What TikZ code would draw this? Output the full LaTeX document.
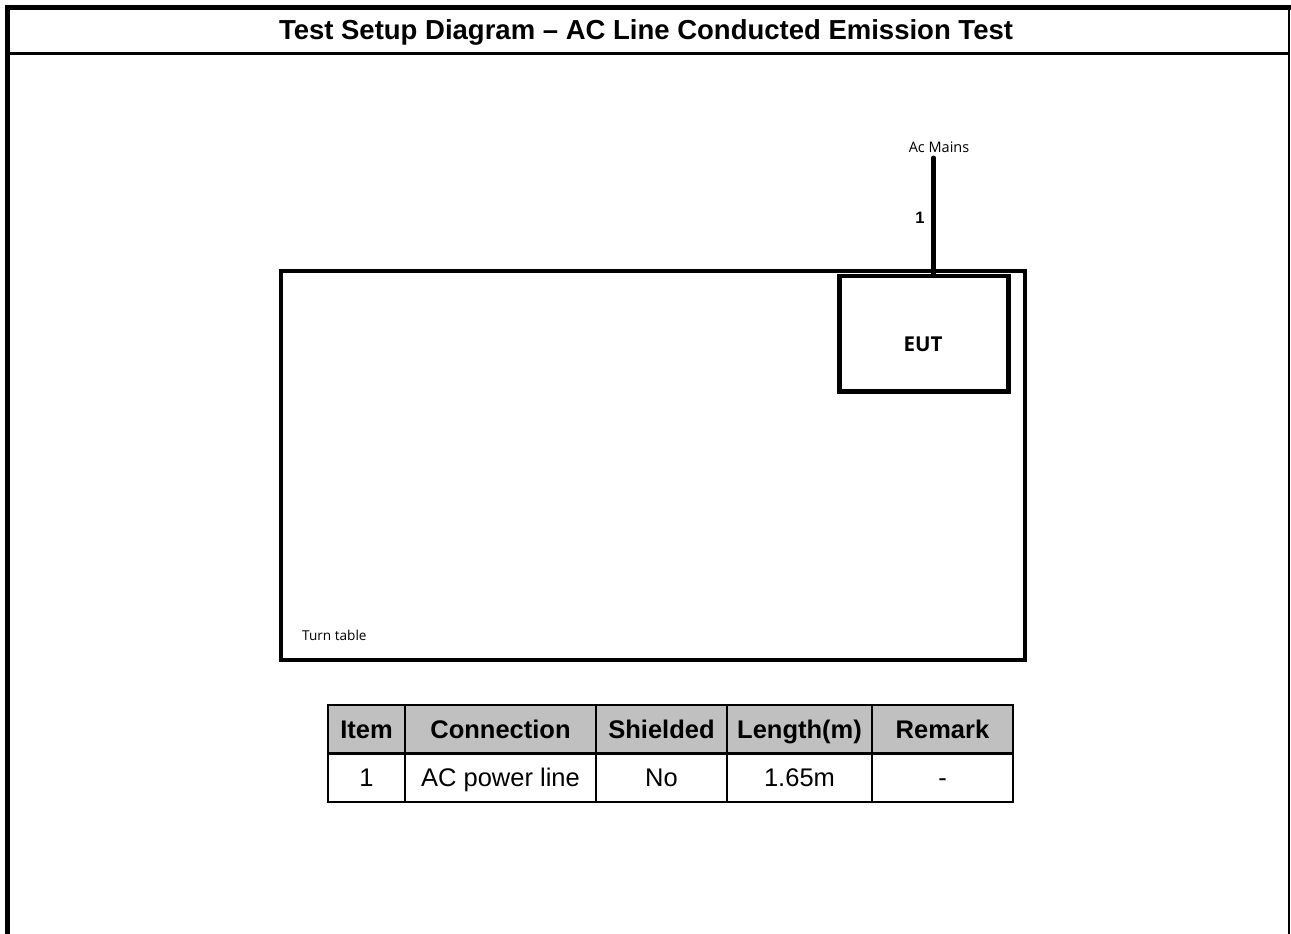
\documentclass[tikz,border=0pt]{standalone}
\usepackage{fontspec}
\setmainfont{Liberation Sans}
\newfontfamily\osans{Open Sans}
\definecolor{headgray}{RGB}{192,192,192}
\begin{document}
\begin{tikzpicture}[x=1pt,y=-1pt,
  thickline/.style={line width=4.5pt},
  cellbase/.style={draw, line width=2.7pt, inner sep=0pt, minimum height=48.5pt,
    text height=18.3pt, text depth=0pt},
  hcell/.style={cellbase, fill=headgray, font=\bfseries\fontsize{25.5}{30}\selectfont},
  dcell/.style={cellbase, font=\fontsize{25.5}{30}\selectfont},
  smalllabel/.style={font=\osans\fontsize{13.6}{16}\selectfont, inner sep=0pt, anchor=base}
]
\useasboundingbox (0,0) rectangle (1291,934);
\fill[white] (0,0) rectangle (1291,934);
% outer frame
\draw[line width=5pt] (7.5,934) -- (7.5,7.5) -- (1291,7.5);
\draw[line width=2pt] (1289,7.5) -- (1289,934);
\draw[line width=2.5pt] (7.5,53.7) -- (1289,53.7);
% title
\node[font=\bfseries\fontsize{27.5}{32}\selectfont, anchor=base, inner sep=0pt] (title) at (646,39.3)
  {Test Setup Diagram – AC Line Conducted Emission Test};
% turn table
\node[draw, line width=4pt, minimum width=743.5pt, minimum height=388.5pt, inner sep=0pt]
  (turntable) at (652.75,465.25) {};
\node[smalllabel, anchor=base west] (ttlabel) at (302,640) {Turn table};
% EUT
\node[draw, thickline, minimum width=169pt, minimum height=115.5pt, inner sep=0pt]
  (eut) at (924,333.75) {};
\node[font=\osans\bfseries\fontsize{20.5}{24}\selectfont, anchor=base, inner sep=0pt] (euttext) at (923,351.7) {EUT};
% AC mains cable
\node[font=\osans\fontsize{14.5}{17}\selectfont, anchor=base, inner sep=0pt] (acmains) at (939,152.7) {Ac Mains};
\coordinate (mainsend) at (933.5,158);
\draw[line width=5pt, line cap=round] (mainsend) -- (mainsend |- eut.north);
\node[font=\bfseries\fontsize{16.5}{20}\selectfont, anchor=base, inner sep=0pt] (cablenum) at (920,223) {1};
% table
\node[hcell, minimum width=77pt]  (h1) at (366.5,729.25) {Item};
\node[hcell, minimum width=191pt] (h2) at (500.5,729.25) {Connection};
\node[hcell, minimum width=131pt] (h3) at (661.5,729.25) {Shielded};
\node[hcell, minimum width=145pt] (h4) at (799.5,729.25) {Length(m)};
\node[hcell, minimum width=141pt] (h5) at (942.5,729.25) {Remark};
\node[dcell, minimum width=77pt]  (d1) at (366.5,777.75) {1};
\node[dcell, minimum width=191pt] (d2) at (500.5,777.75) {AC power line};
\node[dcell, minimum width=131pt] (d3) at (661.5,777.75) {No};
\node[dcell, minimum width=145pt] (d4) at (799.5,777.75) {1.65m};
\node[dcell, minimum width=141pt] (d5) at (942.5,777.75) {-};
\end{tikzpicture}
\end{document}
